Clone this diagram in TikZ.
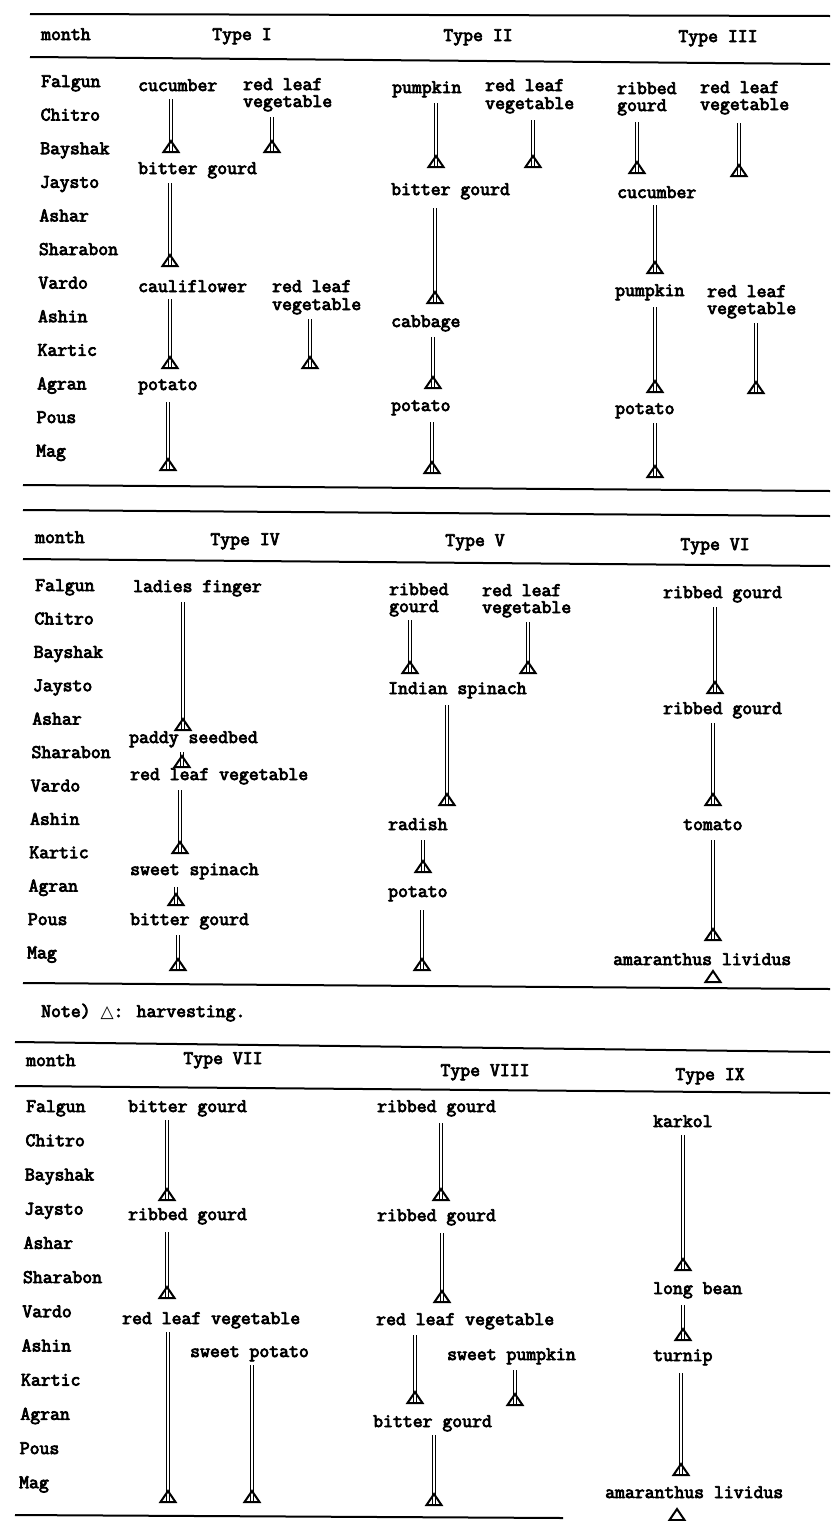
\documentclass[tikz,border=0pt]{standalone}
\usepackage{fontspec}
\newfontfamily\lblfont{Latin Modern Mono}[FakeBold=4]
\newfontfamily\symfont{DejaVu Sans}
\newcommand\fsz{\fontsize{19.2}{18}\lblfont}
\newcommand\harv[4]{%
  \coordinate (#1s) at (#2,#3);
  \coordinate (#1h) at (#2,#4);
  \draw[bar] (#1s) -- (#1h);
  \draw[tri] (#1h) ++(-7.5,0) -- ++(7.5,-11) -- ++(7.5,11) -- cycle;}
\newcommand\harvtri[3]{%
  \coordinate (#1h) at (#2,#3);
  \draw[tri] (#1h) ++(-7.5,0) -- ++(7.5,-11) -- ++(7.5,11) -- cycle;}
\begin{document}
\begin{tikzpicture}[x=1pt,y=-1pt,
  lbl/.style={anchor=base west, inner sep=0pt, font=\fsz},
  top/.style={lbl, text depth=0pt},
  hdr/.style={anchor=base, inner sep=0pt, font=\fsz},
  rule/.style={line width=2pt},
  bar/.style={double, double distance=2pt, line width=1.4pt},
  tri/.style={line width=2pt, line join=miter}]
\fill[white] (0,0) rectangle (833,1521);
\useasboundingbox (0,0) rectangle (833,1521);

% ---------------- Section 1 ----------------
\draw[rule] (30,14) -- (830,16);
\draw[rule] (30,57) -- (830,64);
\draw[rule] (23,485) -- (830,491);
\node[lbl] (hd1m) at (41,40) {month};
\node[hdr] (hd1a) at (242,40) {Type I};
\node[hdr] (hd1b) at (478,41) {Type II};
\node[hdr] (hd1c) at (718,42) {Type III};
\foreach \m [count=\i from 0] in {Falgun,Chitro,Bayshak,Jaysto,Ashar,Sharabon,Vardo,Ashin,Kartic,Agran,Pous,Mag}
  \node[lbl] (ma-\i) at ({41-0.45*\i},{87+33.6*\i}) {\m};

\node[lbl] (a1) at (138,91) {cucumber}; \harv{a1}{171}{99}{152}
\node[top] (a2) at (243,90) {red leaf}; \node[lbl] (a2b) at (243,107) {vegetable}; \harv{a2}{272}{117}{152}
\node[lbl] (a3) at (138,174) {bitter gourd}; \harv{a3}{170}{183}{266}
\node[lbl] (a4) at (138,292) {cauliflower}; \harv{a4}{170}{299}{368}
\node[top] (a5) at (272,292) {red leaf}; \node[lbl] (a5b) at (272,310) {vegetable}; \harv{a5}{310}{319}{368}
\node[lbl] (a6) at (138,390) {potato}; \harv{a6}{168}{402}{470}

\node[lbl] (b1) at (392,93) {pumpkin}; \harv{b1}{436}{103}{167}
\node[top] (b2) at (485,91) {red leaf}; \node[lbl] (b2b) at (485,109) {vegetable}; \harv{b2}{533}{120}{167}
\node[lbl] (b3) at (391,195) {bitter gourd}; \harv{b3}{435}{208}{303}
\node[lbl] (b4) at (391,327) {cabbage}; \harv{b4}{433}{337}{388}
\node[lbl] (b5) at (391,411) {potato}; \harv{b5}{432}{422}{473}

\node[top] (c1) at (617,94) {ribbed}; \node[lbl] (c1b) at (617,111) {gourd}; \harv{c1}{637}{122}{173}
\node[top] (c2) at (700,93) {red leaf}; \node[lbl] (c2b) at (700,110) {vegetable}; \harv{c2}{739}{123}{176}
\node[lbl] (c3) at (617,198) {cucumber}; \harv{c3}{655}{205}{273}
\node[lbl] (c4) at (615,296) {pumpkin}; \harv{c4}{655}{307}{392}
\node[top] (c5) at (707,297) {red leaf}; \node[lbl] (c5b) at (707,314) {vegetable}; \harv{c5}{756}{323}{393}
\node[lbl] (c6) at (615,414) {potato}; \harv{c6}{655}{423}{477}

% ---------------- Section 2 ----------------
\draw[rule] (23,510) -- (830,516);
\draw[rule] (23,559) -- (830,566);
\draw[rule] (23,983) -- (830,989);
\node[lbl] (hd2m) at (35,543) {month};
\node[hdr] (hd2a) at (245,545) {Type IV};
\node[hdr] (hd2b) at (475,546) {Type V};
\node[hdr] (hd2c) at (715,550) {Type VI};
\foreach \m [count=\i from 0] in {Falgun,Chitro,Bayshak,Jaysto,Ashar,Sharabon,Vardo,Ashin,Kartic,Agran,Pous,Mag}
  \node[lbl] (mb-\i) at ({35-0.73*\i},{591+33.4*\i}) {\m};

\node[lbl] (d1) at (133,592) {ladies finger}; \harv{d1}{183}{602}{730}
\node[lbl] (d2) at (129,743) {paddy seedbed}; \harv{d2}{182}{752}{767}
\node[lbl] (d3) at (130,780) {red leaf vegetable}; \harv{d3}{180}{790}{853}
\node[lbl] (d4) at (130,875) {sweet spinach}; \harv{d4}{176}{887}{905}
\node[lbl] (d5) at (130,925) {bitter gourd}; \harv{d5}{178}{935}{970}

\node[top] (e1) at (389,595) {ribbed}; \node[lbl] (e1b) at (389,612) {gourd}; \harv{e1}{410}{620}{673}
\node[top] (e2) at (482,596) {red leaf}; \node[lbl] (e2b) at (482,613) {vegetable}; \harv{e2}{528}{622}{673}
\node[lbl] (e3) at (388,694) {Indian spinach}; \harv{e3}{447}{705}{805}
\node[lbl] (e4) at (388,830) {radish}; \harv{e4}{423}{840}{872}
\node[lbl] (e5) at (388,897) {potato}; \harv{e5}{422}{910}{970}

\node[lbl] (f1) at (663,598) {ribbed gourd}; \harv{f1}{715}{607}{693}
\node[lbl] (f2) at (663,714) {ribbed gourd}; \harv{f2}{713}{723}{805}
\node[lbl] (f3) at (683,830) {tomato}; \harv{f3}{713}{840}{940}
\node[lbl] (f4) at (613,965) {amaranthus lividus}; \harvtri{f4}{713}{982}

\node[lbl] (note) at (41,1017) {Note) {\symfont\fontsize{17}{17}\selectfont △}: harvesting.};

% ---------------- Section 3 ----------------
\draw[rule] (15,1042) -- (830,1052);
\draw[rule] (15,1086) -- (830,1093);
\draw[rule] (15,1515) -- (563,1518);
\node[lbl] (hd3m) at (26,1066) {month};
\node[hdr] (hd3a) at (223,1064) {Type VII};
\node[hdr] (hd3b) at (485,1076) {Type VIII};
\node[hdr] (hd3c) at (710,1080) {Type IX};
\foreach \m [count=\i from 0] in {Falgun,Chitro,Bayshak,Jaysto,Ashar,Sharabon,Vardo,Ashin,Kartic,Agran,Pous,Mag}
  \node[lbl] (mc-\i) at ({26-0.64*\i},{1112+34.2*\i}) {\m};

\node[lbl] (g1) at (128,1112) {bitter gourd}; \harv{g1}{167}{1120}{1200}
\node[lbl] (g2) at (128,1220) {ribbed gourd}; \harv{g2}{167}{1232}{1298}
\node[lbl] (g3) at (122,1324) {red leaf vegetable}; \harv{g3}{168}{1332}{1502}
\node[lbl] (g4) at (190,1357) {sweet potato}; \harv{g4}{252}{1365}{1502}

\node[lbl] (h1) at (377,1112) {ribbed gourd}; \harv{h1}{441}{1123}{1200}
\node[lbl] (h2) at (377,1221) {ribbed gourd}; \harv{h2}{442}{1233}{1302}
\node[lbl] (h3) at (376,1325) {red leaf vegetable}; \harv{h3}{415}{1335}{1403}
\node[lbl] (h4) at (447,1360) {sweet pumpkin}; \harv{h4}{515}{1370}{1405}
\node[lbl] (h5) at (373,1427) {bitter gourd}; \harv{h5}{434}{1435}{1505}

\node[lbl] (i1) at (653,1127) {karkol}; \harv{i1}{683}{1135}{1270}
\node[lbl] (i2) at (653,1294) {long bean}; \harv{i2}{683}{1305}{1340}
\node[lbl] (i3) at (653,1361) {turnip}; \harv{i3}{681}{1373}{1475}
\node[lbl] (i4) at (605,1498) {amaranthus lividus}; \harvtri{i4}{677}{1520}
\end{tikzpicture}
\end{document}
